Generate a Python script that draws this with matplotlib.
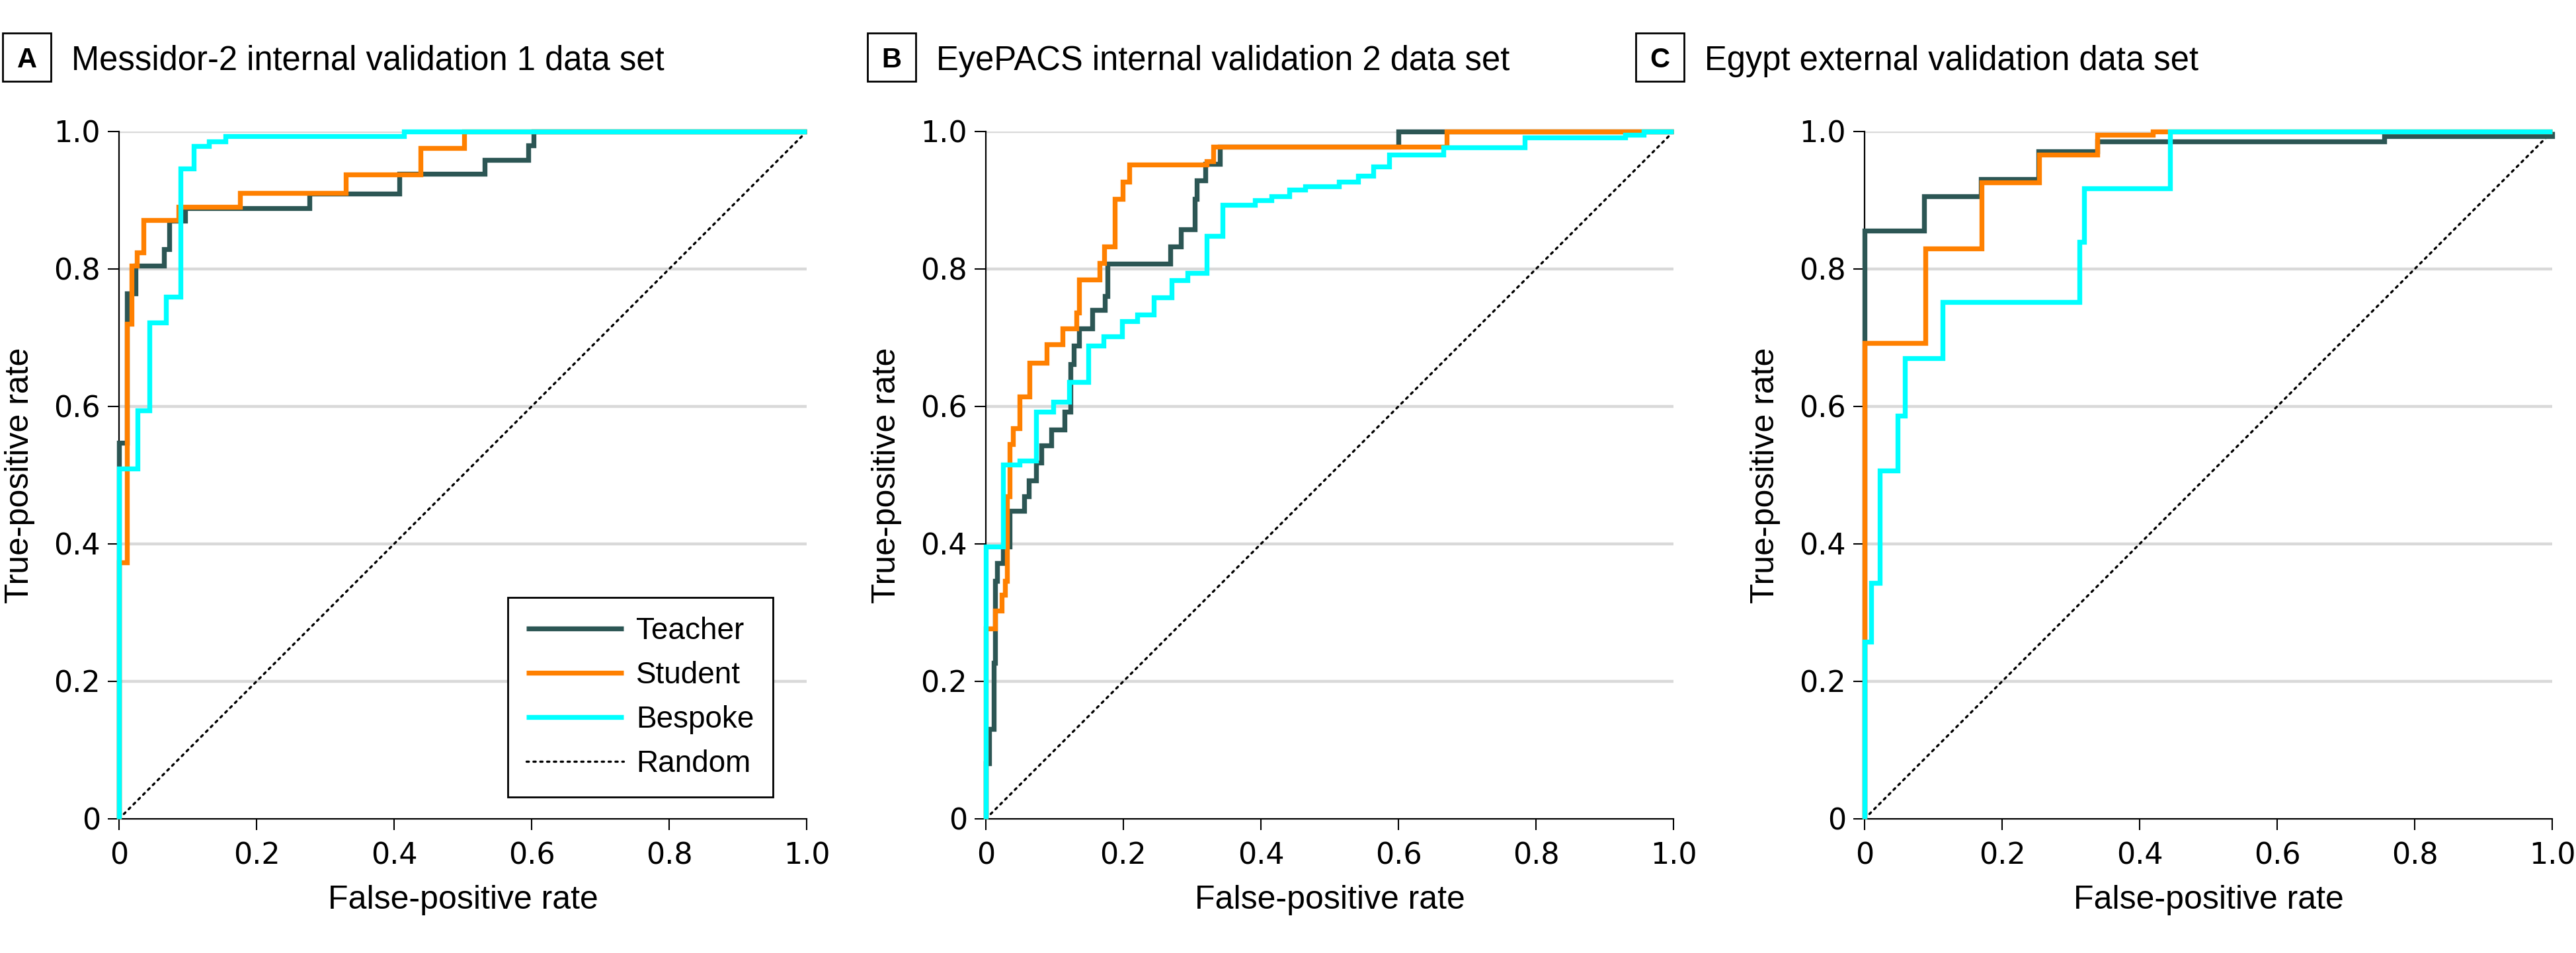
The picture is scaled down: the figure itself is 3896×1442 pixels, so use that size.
import matplotlib
matplotlib.use("Agg")
import matplotlib.pyplot as plt
from matplotlib.patches import Rectangle

# ---------------- data ----------------
series_names = ["Teacher", "Student", "Bespoke"]
panel_letters = ["A", "B", "C"]
panel_titles = ["Messidor-2 internal validation 1 data set",
                "EyePACS internal validation 2 data set",
                "Egypt external validation data set"]
tick_values = [0, 0.2, 0.4, 0.6, 0.8, 1.0]
tick_labels = ["0", "0.2", "0.4", "0.6", "0.8", "1.0"]

# Panel A (Messidor-2)
a_teacher_fpr = [0, 0, 0.012, 0.024, 0.065, 0.073, 0.096, 0.277, 0.408, 0.532, 0.595, 0.603, 1.0]
a_teacher_tpr = [0, 0.547, 0.764, 0.805, 0.829, 0.870, 0.888, 0.910, 0.938, 0.959, 0.980, 1.0, 1.0]
a_student_fpr = [0, 0, 0.012, 0.0186, 0.0256, 0.0353, 0.0865, 0.176, 0.3296, 0.438, 0.502, 1.0]
a_student_tpr = [0, 0.373, 0.720, 0.805, 0.824, 0.871, 0.890, 0.911, 0.9375, 0.976, 1.0, 1.0]
a_bespoke_fpr = [0, 0, 0.0266, 0.0439, 0.0679, 0.0897, 0.109, 0.131, 0.155, 0.4146, 1.0]
a_bespoke_tpr = [0, 0.510, 0.5945, 0.722, 0.760, 0.946, 0.979, 0.986, 0.993, 1.0, 1.0]

# Panel B (EyePACS)
b_teacher_fpr = [0, 0, 0.0045, 0.0112, 0.0135, 0.0167, 0.0247, 0.0343, 0.056, 0.0625, 0.0734,
                 0.081, 0.0955, 0.1147, 0.1228, 0.1276, 0.1356, 0.155, 0.1731, 0.1766, 0.268,
                 0.284, 0.304, 0.307, 0.319, 0.340, 0.600, 1.0]
b_teacher_tpr = [0, 0.081, 0.131, 0.227, 0.346, 0.372, 0.396, 0.448, 0.469, 0.492, 0.518,
                 0.543, 0.566, 0.592, 0.662, 0.688, 0.713, 0.740, 0.761, 0.808, 0.833,
                 0.858, 0.902, 0.929, 0.953, 0.978, 1.0, 1.0]
b_student_fpr = [0, 0, 0.0135, 0.0231, 0.0279, 0.0311, 0.0343, 0.0391, 0.0487, 0.0638, 0.0888,
                 0.112, 0.132, 0.1356, 0.1654, 0.1718, 0.1876, 0.1987, 0.2091, 0.321, 0.331,
                 0.670, 1.0]
b_student_tpr = [0, 0.277, 0.303, 0.326, 0.346, 0.469, 0.545, 0.568, 0.614, 0.663, 0.690,
                 0.713, 0.737, 0.785, 0.809, 0.833, 0.902, 0.927, 0.952, 0.957, 0.978,
                 1.0, 1.0]
b_bespoke_fpr = [0, 0, 0.0253, 0.0487, 0.0728, 0.0984, 0.1215, 0.1487, 0.1715, 0.1979, 0.2202,
                 0.2438, 0.2704, 0.2931, 0.321, 0.3438, 0.391, 0.4155, 0.4412, 0.4648, 0.5133,
                 0.5412, 0.5635, 0.5863, 0.6657, 0.784, 0.930, 0.957, 1.0]
b_bespoke_tpr = [0, 0.396, 0.515, 0.521, 0.592, 0.607, 0.636, 0.688, 0.702, 0.724, 0.734,
                 0.759, 0.784, 0.794, 0.848, 0.893, 0.900, 0.906, 0.915, 0.920, 0.927,
                 0.936, 0.949, 0.966, 0.977, 0.991, 0.995, 1.0, 1.0]

# Panel C (Egypt)
c_teacher_fpr = [0, 0, 0.0862, 0.1690, 0.2526, 0.338, 0.756, 1.0]
c_teacher_tpr = [0, 0.856, 0.906, 0.931, 0.971, 0.986, 0.993, 1.0]
c_student_fpr = [0, 0, 0.0881, 0.1699, 0.2534, 0.338, 0.419, 1.0]
c_student_tpr = [0, 0.6925, 0.830, 0.9255, 0.966, 0.995, 1.0, 1.0]
c_bespoke_fpr = [0, 0, 0.0096, 0.0218, 0.0481, 0.0587, 0.1138, 0.3125, 0.3194, 0.444, 1.0]
c_bespoke_tpr = [0, 0.258, 0.343, 0.507, 0.587, 0.6705, 0.7517, 0.8395, 0.917, 1.0, 1.0]

panel_data = [
    [(a_teacher_fpr, a_teacher_tpr), (a_student_fpr, a_student_tpr), (a_bespoke_fpr, a_bespoke_tpr)],
    [(b_teacher_fpr, b_teacher_tpr), (b_student_fpr, b_student_tpr), (b_bespoke_fpr, b_bespoke_tpr)],
    [(c_teacher_fpr, c_teacher_tpr), (c_student_fpr, c_student_tpr), (c_bespoke_fpr, c_bespoke_tpr)],
]

# ---------------- style ----------------
colors = ["#2C5654", "#FF8000", "#00FFFF"]
TEXT_FONT = ["Liberation Sans", "DejaVu Sans"]
TICK_FONT = ["DejaVu Sans"]
W, H = 3896, 1442

fig = plt.figure(figsize=(W / 100, H / 100), dpi=100)

ax_left_px = [180, 1491, 2820]
box_left_px = [4, 1312, 2474]
ax_top_px, ax_size_px = 199, 1040

for i in range(3):
    l = ax_left_px[i]
    ax = fig.add_axes([l / W, (H - ax_top_px - ax_size_px) / H, ax_size_px / W, ax_size_px / H])
    ax.set_xlim(0, 1)
    ax.set_ylim(0, 1)
    for yv in tick_values[1:]:
        ax.axhline(yv, color="#D9D9D9", lw=3.2, zorder=0)
    rnd, = ax.plot([0, 1], [0, 1], color="black", lw=2.4, linestyle=(0, (1, 2.1)),
                   dash_capstyle="round", zorder=1, label="Random")
    handles = []
    for (fpr, tpr), name, col in zip(panel_data[i], series_names, colors):
        ln, = ax.plot(fpr, tpr, drawstyle="steps-post", color=col, lw=5.3,
                      clip_on=False, zorder=3, label=name,
                      solid_joinstyle="miter", solid_capstyle="butt")
        handles.append(ln)
    handles.append(rnd)

    for s in ["top", "right"]:
        ax.spines[s].set_visible(False)
    for s in ["left", "bottom"]:
        ax.spines[s].set_linewidth(1.6)
        ax.spines[s].set_zorder(2)
    ax.set_xticks(tick_values)
    ax.set_xticklabels(tick_labels)
    ax.set_yticks(tick_values)
    ax.set_yticklabels(tick_labels)
    ax.tick_params(axis="both", direction="out", length=12, width=1.5, labelsize=32)
    ax.tick_params(axis="x", pad=13)
    ax.tick_params(axis="y", pad=8)
    for lab in ax.get_xticklabels() + ax.get_yticklabels():
        lab.set_family(TICK_FONT)

    ax.text(0.5, -(1362 - 1239) / ax_size_px, "False-positive rate", transform=ax.transAxes,
            ha="center", va="center", fontsize=36, family=TEXT_FONT)
    ax.text(-150 / ax_size_px, 0.5, "True-positive rate", transform=ax.transAxes,
            ha="center", va="center", rotation=90, fontsize=36, family=TEXT_FONT)

    # panel label box + title
    bl = box_left_px[i]
    fig.patches.append(Rectangle((bl / W, 1 - 123 / H), 73 / W, 73 / H, transform=fig.transFigure,
                                 fill=False, edgecolor="black", lw=2.0))
    fig.text((bl + 36.5) / W, 1 - 101.5 / H, panel_letters[i], ha="center", va="baseline",
             fontsize=30, fontweight="bold", family=TEXT_FONT)
    fig.text((bl + 104) / W, 1 - 106 / H, panel_titles[i], ha="left", va="baseline",
             fontsize=36.5, family=TEXT_FONT)

    if i == 0:
        leg = ax.legend(handles, series_names + ["Random"], loc="lower right",
                        bbox_to_anchor=(0.951, 0.0317), borderaxespad=0, frameon=True,
                        fancybox=False, edgecolor="black", framealpha=1,
                        prop={"family": TEXT_FONT, "size": 33}, handlelength=3.2,
                        handletextpad=0.42, labelspacing=0.5, borderpad=0.62)
        leg.get_frame().set_linewidth(2.0)
        leg.set_zorder(5)

fig.savefig("out.png", dpi=100, facecolor="white")
